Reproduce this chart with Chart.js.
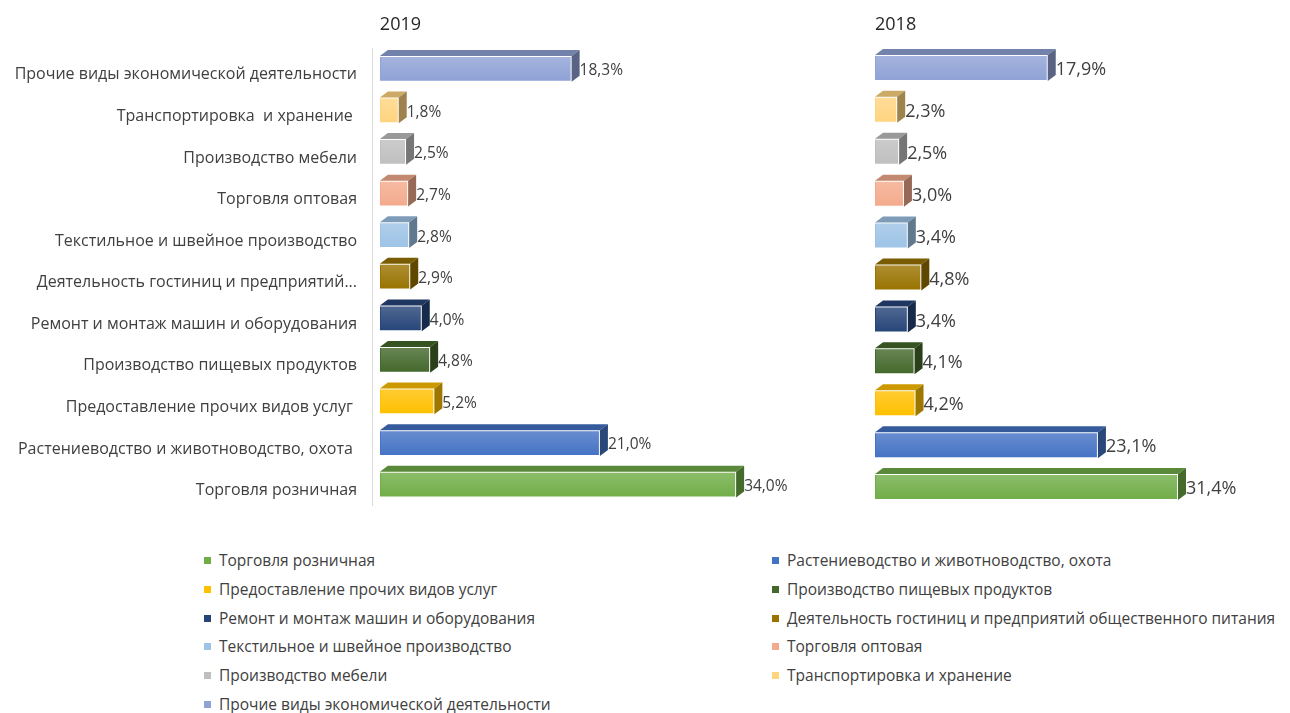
<!DOCTYPE html>
<html lang="ru">
<head>
<meta charset="utf-8">
<title>Структура по видам деятельности</title>
<script src="https://cdn.jsdelivr.net/npm/chart.js@4.4.0/dist/chart.umd.min.js"></script>
<style>
  body { margin: 0; background: #fff; width: 1290px; height: 713px; position: relative; overflow: hidden; font-family: "Open Sans", sans-serif; }
  #box2019 { position: absolute; left: 0; top: 0; width: 800px; height: 530px; }
  #box2018 { position: absolute; left: 800px; top: 0; width: 490px; height: 530px; }
  .item { position: absolute; font-size: 15.5px; line-height: 18px; color: #404040; white-space: nowrap; }
  .item .box { position: absolute; left: 0; top: 6px; width: 7px; height: 7px; }
  .item .txt { position: absolute; left: 15px; top: 0; }
</style>
</head>
<body>
<div id="box2019"><canvas id="chart2019"></canvas></div>
<div id="box2018"><canvas id="chart2018"></canvas></div>
<div id="legend"></div>
<script>
// data, in legend order (first item = bottom bar)
const categories = [
  'Торговля розничная',
  'Растениеводство и животноводство, охота ',
  'Предоставление прочих видов услуг ',
  'Производство пищевых продуктов',
  'Ремонт и монтаж машин и оборудования',
  'Деятельность гостиниц и предприятий общественного питания',
  'Текстильное и швейное производство',
  'Торговля оптовая',
  'Производство мебели',
  'Транспортировка  и хранение ',
  'Прочие виды экономической деятельности'
];
const values2019 = [34.0, 21.0, 5.2, 4.8, 4.0, 2.9, 2.8, 2.7, 2.5, 1.8, 18.3];
const values2018 = [31.4, 23.1, 4.2, 4.1, 3.4, 4.8, 3.4, 3.0, 2.5, 2.3, 17.9];
const colors = [
  '#70ad47', '#4472c4', '#ffc000', '#43682b', '#264478', '#997300',
  '#9dc3e6', '#f4aa8c', '#bfbfbf', '#ffd47f', '#8fa2d6'
];
const panelTitles = ['2019', '2018'];

const FONT = '"Open Sans", sans-serif';
const TEXT = '#404040';
const DX = 8, DY = 6; // depth of the 3d bars

// darken a hex colour
function shade(hex, f) {
  const n = parseInt(hex.slice(1), 16);
  const r = Math.round(((n >> 16) & 255) * f);
  const g = Math.round(((n >> 8) & 255) * f);
  const b = Math.round((n & 255) * f);
  return `rgb(${r},${g},${b})`;
}

function formatPct(v) {
  return v.toFixed(1).replace('.', ',') + '%';
}

// draws top and side faces, the panel title and the value labels
const bar3d = {
  id: 'bar3d',
  afterDatasetsDraw(chart, args, opts) {
    const ctx = chart.ctx;
    const ds = chart.data.datasets[0];
    const meta = chart.getDatasetMeta(0);
    ctx.save();
    meta.data.forEach((el, i) => {
      const p = el.getProps(['x', 'y', 'base', 'height'], true);
      const x0 = p.base, x1 = p.x;
      const top = p.y - p.height / 2, bot = p.y + p.height / 2;
      const c = ds.backgroundColor[i];

      // light sheen on the front face
      const g = ctx.createLinearGradient(0, top, 0, bot);
      g.addColorStop(0, 'rgba(255,255,255,0.2)');
      g.addColorStop(1, 'rgba(255,255,255,0)');
      ctx.fillStyle = g;
      ctx.fillRect(x0 + 1, top + 1, x1 - x0 - 2, bot - top - 2);

      // top face
      ctx.fillStyle = shade(c, 0.8);
      ctx.beginPath();
      ctx.moveTo(x0, top);
      ctx.lineTo(x1, top);
      ctx.lineTo(x1 + DX, top - DY);
      ctx.lineTo(x0 + DX, top - DY);
      ctx.closePath();
      ctx.fill();

      // side face
      ctx.fillStyle = shade(c, 0.62);
      ctx.beginPath();
      ctx.moveTo(x1, top);
      ctx.lineTo(x1 + DX, top - DY);
      ctx.lineTo(x1 + DX, bot - DY);
      ctx.lineTo(x1, bot);
      ctx.closePath();
      ctx.fill();

      // value label
      ctx.fillStyle = TEXT;
      ctx.font = `${opts.labelSize}px ${FONT}`;
      ctx.textAlign = 'left';
      ctx.textBaseline = 'middle';
      ctx.fillText(formatPct(ds.data[i]), x1 + DX, p.y + 2);
    });

    // panel title
    ctx.fillStyle = '#262626';
    ctx.font = `18px ${FONT}`;
    ctx.textAlign = 'left';
    ctx.textBaseline = 'middle';
    ctx.fillText(opts.title, chart.scales.x.getPixelForValue(0), 25);
    ctx.restore();
  }
};

function makeChart(id, values, o) {
  return new Chart(document.getElementById(id), {
    type: 'bar',
    data: {
      labels: categories,
      datasets: [{
        data: values,
        backgroundColor: colors,
        borderColor: 'rgba(255,255,255,0.6)',
        borderWidth: 1,
        barPercentage: 0.62,
        categoryPercentage: 1
      }]
    },
    options: {
      indexAxis: 'y',
      responsive: true,
      maintainAspectRatio: false,
      animation: false,
      layout: { padding: { top: o.padTop, bottom: o.padBottom, left: o.padLeft, right: o.padRight } },
      plugins: {
        legend: { display: false },
        tooltip: { enabled: false },
        bar3d: { title: o.title, labelSize: o.labelSize }
      },
      scales: {
        x: { display: false, min: o.min, max: o.max },
        y: {
          display: o.showAxis,
          reverse: true,
          grid: { display: false, drawTicks: false },
          border: { display: true, color: '#d9d9d9', width: 1 },
          ticks: {
            color: TEXT,
            font: { family: FONT, size: 16 },
            padding: 15,
            labelOffset: 6,
            callback: function (value) {
              const label = this.getLabelForValue(value);
              if (label.length > 40) {
                return label.slice(0, label.lastIndexOf(' ', 36)) + '...';
              }
              return label;
            }
          },
          afterFit: (scale) => { if (o.showAxis) scale.width = 372; }
        }
      }
    },
    plugins: [bar3d]
  });
}

makeChart('chart2019', values2019, {
  title: panelTitles[0], labelSize: 15.5, showAxis: true,
  min: -0.75, max: 40, padTop: 48, padBottom: 21, padLeft: 0, padRight: 1
});
makeChart('chart2018', values2018, {
  title: panelTitles[1], labelSize: 18, showAxis: false,
  min: 0, max: 40, padTop: 47, padBottom: 22, padLeft: 75, padRight: 29
});

// legend, two columns, row by row
const legend = document.getElementById('legend');
categories.forEach((name, i) => {
  const item = document.createElement('div');
  item.className = 'item';
  item.style.left = (i % 2 === 0 ? 204 : 772) + 'px';
  item.style.top = (551 + Math.floor(i / 2) * 28.8) + 'px';
  item.innerHTML = `<span class="box" style="background:${colors[i]}"></span><span class="txt">${name.trim()}</span>`;
  legend.appendChild(item);
});
</script>
</body>
</html>
